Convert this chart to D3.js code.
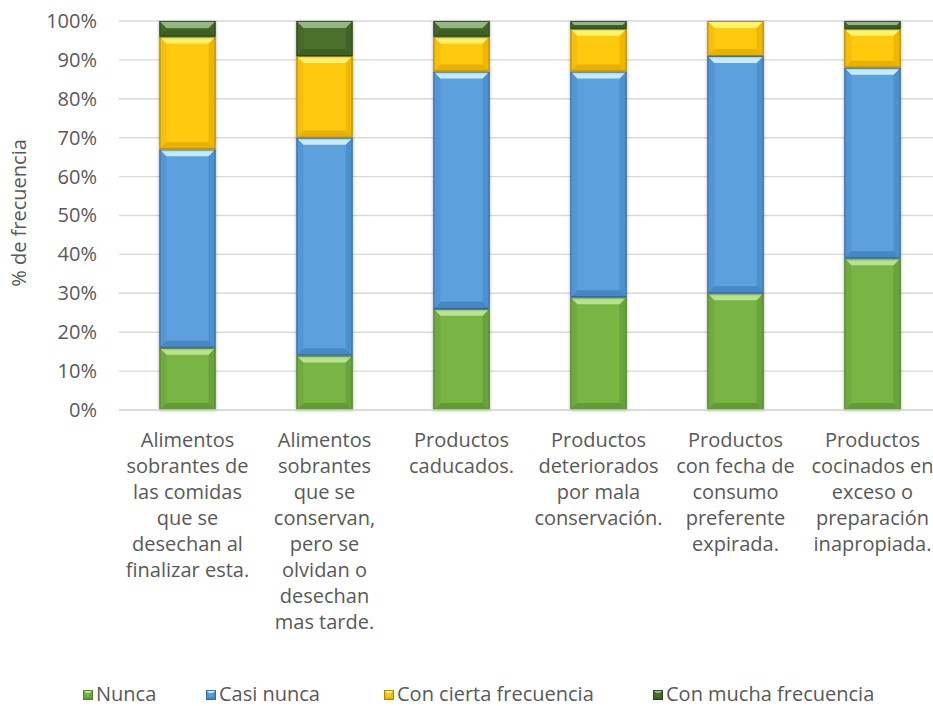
<!DOCTYPE html>
<html>
<head>
<meta charset="utf-8">
<script src="https://cdn.jsdelivr.net/npm/d3@7"></script>
<style>
  html, body { margin: 0; padding: 0; background: #fff; }
  svg { display: block; font-family: "Open Sans", "Noto Sans", sans-serif; }
</style>
</head>
<body>
<svg id="chart" width="933" height="706"></svg>
<script>
// Categories (line breaks follow the wrapped axis labels)
const categories = [
  "Alimentos\nsobrantes de\nlas comidas\nque se\ndesechan al\nfinalizar esta.",
  "Alimentos\nsobrantes\nque se\nconservan,\npero se\nolvidan o\ndesechan\nmas tarde.",
  "Productos\ncaducados.",
  "Productos\ndeteriorados\npor mala\nconservación.",
  "Productos\ncon fecha de\nconsumo\npreferente\nexpirada.",
  "Productos\ncocinados en\nexceso o\npreparación\ninapropiada."
];

// Percentage of responses per frequency level
const nunca       = [16, 14, 26, 29, 30, 39];
const casiNunca   = [51, 56, 61, 58, 61, 49];
const conCierta   = [29, 21,  9, 11,  9, 10];
const conMucha    = [ 4,  9,  4,  2,  0,  2];

const seriesNames = ["Nunca", "Casi nunca", "Con cierta frecuencia", "Con mucha frecuencia"];
const yTicks = [0, 0.1, 0.2, 0.3, 0.4, 0.5, 0.6, 0.7, 0.8, 0.9, 1];

// Colour set per series: base, highlight, shade, outline
const palette = [
  { base: "#78b545", hi: "#b9e48f", lo: "#5c9231", edge: "#4a7a26" },
  { base: "#5ba0de", hi: "#c4eeff", lo: "#3f7fbf", edge: "#2e5f93" },
  { base: "#ffc90d", hi: "#fff36a", lo: "#e0a800", edge: "#9a7a00" },
  { base: "#4b6f2f", hi: "#94b883", lo: "#3a5a22", edge: "#263f15" }
];

const FS = 20;
const TXT = "#595959";

const svg = d3.select("#chart");
const W = 933;

const rows = categories.map((c, i) => ({
  cat: c,
  "Nunca": nunca[i],
  "Casi nunca": casiNunca[i],
  "Con cierta frecuencia": conCierta[i],
  "Con mucha frecuencia": conMucha[i]
}));

const stack = d3.stack().keys(seriesNames).offset(d3.stackOffsetExpand);
const layers = stack(rows);

const x = d3.scaleBand().domain(categories).range([119, 941]).paddingInner(0.59).paddingOuter(0.295);
const y = d3.scaleLinear().domain([0, 1]).range([410, 21]);

const defs = svg.append("defs");
const shadow = defs.append("filter").attr("id", "shadow")
  .attr("x", "-20%").attr("y", "-20%").attr("width", "140%").attr("height", "140%");
shadow.append("feDropShadow").attr("dx", 0).attr("dy", 0.5)
  .attr("stdDeviation", 1.6).attr("flood-color", "#000").attr("flood-opacity", 0.35);

// Gridlines
svg.append("g").selectAll("line").data(yTicks).join("line")
  .attr("x1", 119).attr("x2", W)
  .attr("y1", d => y(d)).attr("y2", d => y(d))
  .attr("stroke", "#d9d9d9").attr("stroke-width", 1.4);

// Y axis labels
const yAxis = svg.append("g").attr("transform", "translate(97,0)")
  .call(d3.axisLeft(y).tickValues(yTicks).tickFormat(d3.format(".0%")).tickSize(0).tickPadding(0));
yAxis.select(".domain").remove();
yAxis.selectAll("text")
  .attr("fill", TXT).attr("font-size", FS)
  .style("font-family", "\"Open Sans\", sans-serif");

// Y axis title
svg.append("text")
  .attr("transform", "translate(21,213) rotate(-90)")
  .attr("text-anchor", "middle").attr("dominant-baseline", "middle")
  .attr("fill", TXT).attr("font-size", FS)
  .text("% de frecuencia");

// Beveled block drawing
function bevel(g, bx, by, bw, bh, col, b) {
  const bb = Math.min(b, bh / 2, bw / 2);
  g.append("rect").attr("x", bx).attr("y", by).attr("width", bw).attr("height", bh)
    .attr("fill", col.base);
  if (bh <= 0.5) return;
  const poly = pts => g.append("polygon").attr("points", pts.map(p => p.join(",")).join(" "));
  // left and right faces
  poly([[bx, by], [bx + bb, by + bb], [bx + bb, by + bh - bb], [bx, by + bh]])
    .attr("fill", col.lo).attr("opacity", 0.3);
  poly([[bx + bw, by], [bx + bw - bb, by + bb], [bx + bw - bb, by + bh - bb], [bx + bw, by + bh]])
    .attr("fill", col.lo).attr("opacity", 0.5);
  // bottom face
  poly([[bx, by + bh], [bx + bb, by + bh - bb], [bx + bw - bb, by + bh - bb], [bx + bw, by + bh]])
    .attr("fill", col.lo).attr("opacity", 0.75);
  // top face
  poly([[bx, by], [bx + bw, by], [bx + bw - bb, by + bb], [bx + bb, by + bb]])
    .attr("fill", col.hi);
  g.append("rect").attr("x", bx + 0.5).attr("y", by + 0.5)
    .attr("width", Math.max(0, bw - 1)).attr("height", Math.max(0, bh - 1))
    .attr("fill", "none").attr("stroke", col.edge).attr("stroke-width", 1).attr("opacity", 0.8);
}

// Stacked bars
const barsG = svg.append("g");
layers.forEach((layer, si) => {
  layer.forEach(d => {
    const top = y(d[1]), bot = y(d[0]);
    const h = bot - top;
    if (h <= 0) return;
    const g = barsG.append("g").attr("filter", "url(#shadow)");
    bevel(g, x(d.data.cat), top, x.bandwidth(), h, palette[si], 7);
  });
});

// Baseline
svg.append("line").attr("x1", 119).attr("x2", W).attr("y1", y(0)).attr("y2", y(0))
  .attr("stroke", "#d9d9d9").attr("stroke-width", 1.4);

// X category labels
const xl = svg.append("g").selectAll("text").data(categories).join("text")
  .attr("text-anchor", "middle").attr("fill", TXT).attr("font-size", FS)
  .attr("x", d => x(d) + x.bandwidth() / 2).attr("y", 442)
  .attr("dominant-baseline", "middle");
xl.each(function (d) {
  const t = d3.select(this);
  d.split("\n").forEach((line, i) => {
    t.append("tspan").attr("x", x(d) + x.bandwidth() / 2).attr("dy", i === 0 ? 0 : 26).text(line);
  });
});

// Legend
const legendX = [83, 206, 384, 653];
const lg = svg.append("g").selectAll("g").data(seriesNames).join("g")
  .attr("transform", (d, i) => `translate(${legendX[i]},690)`);
lg.each(function (d, i) {
  const g = d3.select(this);
  bevel(g, 0, 0, 10, 10, palette[i], 3);
});
lg.append("text").attr("x", 13).attr("y", 5.5).attr("dominant-baseline", "middle")
  .attr("fill", TXT).attr("font-size", FS).text(d => d);
</script>
</body>
</html>
